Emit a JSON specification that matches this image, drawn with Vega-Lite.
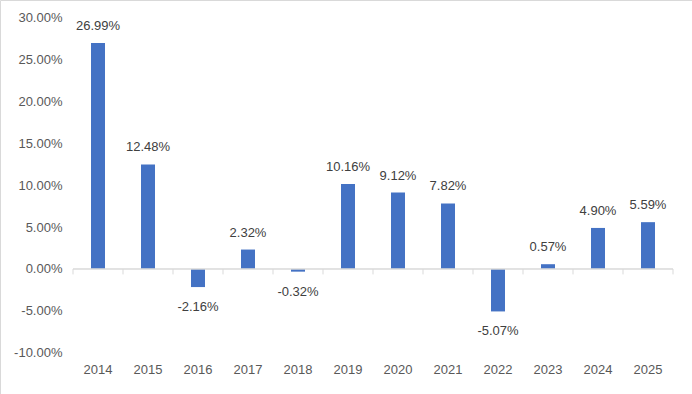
{
  "$schema": "https://vega.github.io/schema/vega-lite/v6.json",
  "width": 692,
  "height": 394,
  "autosize": {"type": "none"},
  "padding": 0,
  "background": "white",
  "config": {
    "view": {"stroke": "#d9d9d9", "strokeWidth": 1},
    "font": "Liberation Sans"
  },
  "data": {
    "values": [
      {"year": "2014", "v": 0.2699},
      {"year": "2015", "v": 0.1248},
      {"year": "2016", "v": -0.0216},
      {"year": "2017", "v": 0.0232},
      {"year": "2018", "v": -0.0032},
      {"year": "2019", "v": 0.1016},
      {"year": "2020", "v": 0.0912},
      {"year": "2021", "v": 0.0782},
      {"year": "2022", "v": -0.0507},
      {"year": "2023", "v": 0.0057},
      {"year": "2024", "v": 0.049},
      {"year": "2025", "v": 0.0559}
    ]
  },
  "encoding": {
    "x": {
      "field": "year",
      "type": "ordinal",
      "scale": {"paddingInner": 0, "paddingOuter": 0.92, "align": 0.7935},
      "axis": {
        "title": null,
        "orient": "bottom",
        "offset": -31,
        "domain": false,
        "ticks": false,
        "tickSize": 0,
        "labelPadding": 0,
        "labelAngle": 0,
        "labelBaseline": "top",
        "labelFontSize": 13,
        "labelColor": "#595959",
        "grid": false
      }
    }
  },
  "layer": [
    {
      "mark": {"type": "bar", "color": "#4472C4", "width": 14},
      "encoding": {
        "y": {
          "field": "v",
          "type": "quantitative",
          "scale": {"domain": [-0.1493, 0.3212], "nice": false, "zero": false},
          "axis": {
            "title": null,
            "values": [-0.1, -0.05, 0, 0.05, 0.1, 0.15, 0.2, 0.25, 0.3],
            "format": ".2%",
            "labelExpr": "replace(datum.label, '\u2212', '-')",
            "offset": -62,
            "domain": false,
            "ticks": false,
            "labelPadding": 0,
            "labelFontSize": 13,
            "labelColor": "#595959",
            "grid": false
          }
        },
        "y2": {"datum": 0}
      }
    },
    {
      "mark": {"type": "bar", "fill": null, "fillOpacity": 0, "stroke": "#d9d9d9", "strokeWidth": 1, "width": {"band": 1}},
      "encoding": {"y": {"datum": 0}, "y2": {"datum": 0}}
    },
    {
      "mark": {"type": "rule", "color": "#d9d9d9", "strokeWidth": 1},
      "encoding": {
        "x": {"field": "year", "type": "ordinal", "bandPosition": 0},
        "y": {"datum": 0},
        "y2": {"datum": -0.0065}
      }
    },
    {
      "transform": [{"filter": "datum.year == '2025'"}],
      "mark": {"type": "rule", "color": "#d9d9d9", "strokeWidth": 1},
      "encoding": {
        "x": {"field": "year", "type": "ordinal", "bandPosition": 1},
        "y": {"datum": 0},
        "y2": {"datum": -0.0065}
      }
    },
    {
      "transform": [
        {"filter": "datum.v >= 0"},
        {"calculate": "format(datum.v, '.2%')", "as": "lbl"}
      ],
      "mark": {"type": "text", "baseline": "middle", "dy": -17, "dx": 0, "fontSize": 13, "color": "#404040"},
      "encoding": {
        "y": {"field": "v", "type": "quantitative"},
        "text": {"field": "lbl", "type": "nominal"}
      }
    },
    {
      "transform": [
        {"filter": "datum.v < 0"},
        {"calculate": "replace(format(datum.v, '.2%'), '\u2212', '-')", "as": "lbl"}
      ],
      "mark": {"type": "text", "baseline": "middle", "dy": 20, "dx": 0, "fontSize": 13, "color": "#404040"},
      "encoding": {
        "y": {"field": "v", "type": "quantitative"},
        "text": {"field": "lbl", "type": "nominal"}
      }
    }
  ]
}
